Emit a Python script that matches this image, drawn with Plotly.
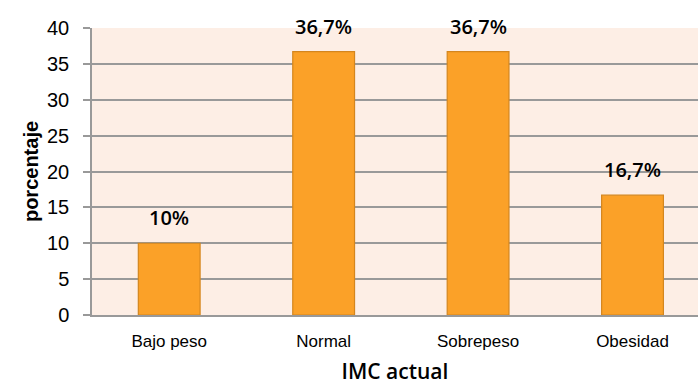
import plotly.graph_objects as go

# IMC (índice de masa corporal) distribution
categorias = ["Bajo peso", "Normal", "Sobrepeso", "Obesidad"]
porcentajes = [10, 36.7, 36.7, 16.7]
etiquetas = ["10%", "36,7%", "36,7%", "16,7%"]
y_ticks = [0, 5, 10, 15, 20, 25, 30, 35, 40]

FONT = "Liberation Sans, Arial, sans-serif"
FONT_MED = "Open Sans, Liberation Sans, sans-serif"

fig = go.Figure(
    go.Bar(
        x=categorias,
        y=porcentajes,
        width=0.4,
        marker=dict(color="#FBA128", line=dict(color="#D4861E", width=1.2)),
        hoverinfo="x+y",
    )
)

# value labels above each bar
for cat, val, txt in zip(categorias, porcentajes, etiquetas):
    fig.add_annotation(
        x=cat, y=val, text=txt, showarrow=False,
        yanchor="bottom", yshift=10,
        font=dict(family=FONT_MED, size=20, color="#000000", weight=600),
    )

fig.update_layout(
    width=698, height=385,
    margin=dict(l=92, r=0, t=28, b=70),
    paper_bgcolor="#FFFFFF",
    plot_bgcolor="#FDEEE5",
    showlegend=False,
    font=dict(family=FONT, color="#000000"),
)

fig.update_xaxes(
    range=[-0.5, 3.424],
    showline=True, linecolor="#999999", linewidth=1.5,
    showgrid=False, ticks="",
    ticklabelstandoff=10,
    tickfont=dict(family=FONT, size=17, color="#000000"),
    title=dict(text="IMC actual",
               font=dict(family=FONT_MED, size=21, color="#000000", weight=600),
               standoff=16),
)

fig.update_yaxes(
    range=[0, 40],
    tickvals=y_ticks,
    showline=True, linecolor="#999999", linewidth=1.5,
    showgrid=True, gridcolor="#999999", gridwidth=1.5,
    ticks="outside", ticklen=7, tickcolor="#999999", tickwidth=1.5,
    ticklabelstandoff=10,
    tickfont=dict(family=FONT, size=20, color="#000000"),
    title=dict(text="<b>porcentaje</b>", font=dict(family=FONT, size=20, color="#000000"), standoff=3),
    zeroline=False,
)

fig.write_html("out.html")
